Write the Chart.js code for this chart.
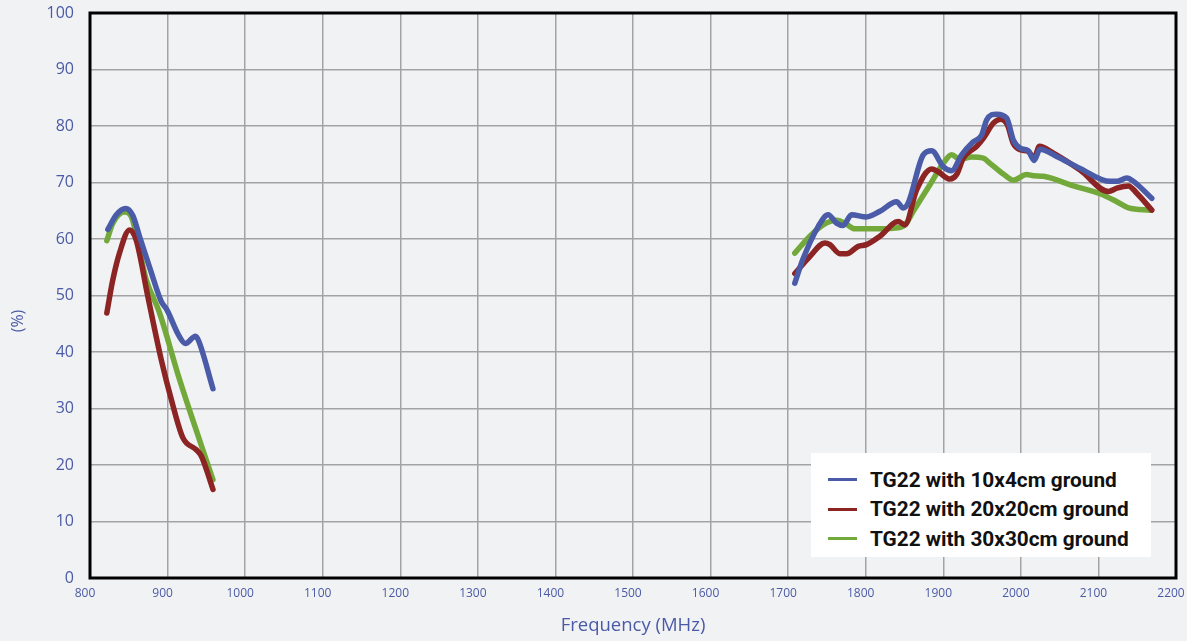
<!DOCTYPE html>
<html>
<head>
<meta charset="utf-8">
<script src="https://cdn.jsdelivr.net/npm/chart.js@4/dist/chart.umd.min.js"></script>
<style>
  html, body { margin: 0; padding: 0; background: #f1f2f4; }
  .wrap { position: relative; width: 1187px; height: 641px; }
  #chart { display: block; }
  .legend {
    position: absolute; left: 811px; top: 453px; width: 340px; height: 104px;
    background: #fff; box-sizing: border-box; padding: 12px 0 0 17px;
    font-family: Roboto, "DejaVu Sans", sans-serif; font-weight: 700; font-size: 20.8px; color: #111;
  }
  .legend div { height: 29.5px; display: flex; align-items: center; }
  .legend span.sw { display: inline-block; width: 29px; height: 3px; margin-right: 13px; }
</style>
</head>
<body>
<div class="wrap">
  <canvas id="chart" width="1187" height="641"></canvas>
  <div class="legend" id="legend"></div>
</div>
<script>
  const xTicks = [800, 900, 1000, 1100, 1200, 1300, 1400, 1500, 1600, 1700, 1800, 1900, 2000, 2100, 2200];
  const yTicks = [0, 10, 20, 30, 40, 50, 60, 70, 80, 90, 100];

  const seriesNames = ['TG22 with 10x4cm ground', 'TG22 with 20x20cm ground', 'TG22 with 30x30cm ground'];
  const seriesColors = ['#4a5ba8', '#8c2424', '#72a93a'];

  // [MHz, %], low band
  const blueLow = [[823, 61.7], [834, 64.3], [846, 65.4], [855, 64.2], [864, 60.4], [878, 54.5], [892, 48.9],
    [899, 47.5], [915, 42.8], [923, 41.5], [936, 42.8], [940, 42.0], [958.5, 33.5]];
  const redLow = [[821.7, 46.9], [829, 52.5], [838, 57.5], [851, 61.6], [859.6, 59.8], [874.6, 49.8], [891.9, 38.6],
    [905, 31.5], [919.8, 24.8], [937, 22.7], [943.5, 21.6], [958.5, 15.7]];
  const greenLow = [[821.7, 59.7], [829.4, 62.8], [844.5, 64.8], [853, 64.0], [872.5, 52.8], [889.7, 46.9],
    [915.5, 35.1], [958.5, 17.4]];

  // high band
  const blueHigh = [[1708.6, 52.2], [1719, 56.4], [1738.7, 62.2], [1751.6, 64.3], [1762.4, 62.8], [1771, 62.4],
    [1781.7, 64.3], [1801, 63.9], [1818.3, 64.9], [1839.8, 66.6], [1848.4, 65.5], [1854.8, 66.4], [1874.2, 74.9],
    [1885, 75.6], [1900, 72.8], [1910.8, 72.1], [1923.7, 74.9], [1938.7, 77.2], [1949.5, 78.4], [1956, 81.1],
    [1968.8, 82.1], [1981.7, 81.4], [1990.3, 77.5], [1999, 76.1], [2009.7, 75.6], [2017, 73.9], [2024.7, 75.9],
    [2046.2, 74.6], [2076.3, 72.5], [2115, 70.2], [2123.7, 70.2], [2136.6, 70.8], [2145.2, 70.2], [2168.8, 67.2]];
  const redHigh = [[1708.6, 53.9], [1728, 56.9], [1747.3, 59.3], [1753.8, 59.0], [1766.7, 57.4], [1775.3, 57.4],
    [1790.3, 58.7], [1801, 59.0], [1818.3, 60.5], [1841.9, 63.1], [1850.5, 62.5], [1865.6, 68.7], [1885, 72.4],
    [1893.5, 71.9], [1908.6, 70.6], [1917.2, 71.4], [1925.8, 74.3], [1943, 76.4], [1951.6, 77.8], [1964.5, 80.5],
    [1974, 81.2], [1982.6, 80.2], [1990.3, 76.9], [1999, 75.8], [2009.7, 75.5], [2017, 74.3], [2023.9, 76.4],
    [2041.9, 75.2], [2076.3, 72.2], [2112.9, 68.4], [2123.7, 69.0], [2138.7, 69.4], [2149.5, 68.1], [2168.8, 65.1]];
  const greenHigh = [[1708.6, 57.5], [1728, 60.5], [1745.2, 62.5], [1762.4, 63.3], [1773.1, 62.8], [1786, 61.8],
    [1814, 61.8], [1835.5, 61.9], [1850.5, 62.5], [1861.3, 64.9], [1882.8, 69.6], [1900, 73.4], [1910.8, 74.9],
    [1921.5, 74.1], [1936.6, 74.5], [1951.6, 74.3], [1960.2, 73.4], [1977.4, 71.5], [1990.3, 70.4], [2007.5, 71.4],
    [2016.1, 71.2], [2029, 71.1], [2067.7, 69.4], [2102.2, 68.0], [2123.7, 66.6], [2138.7, 65.5], [2166.7, 65.1]];

  const bands = [[blueLow, blueHigh], [redLow, redHigh], [greenLow, greenHigh]];

  const tickColor = '#4a5aa6';
  const font = '"Open Sans", "Noto Sans", sans-serif';

  // low band + high band for every series, the legend is drawn separately
  const datasets = [];
  bands.forEach((pair, i) => {
    pair.forEach(pts => {
      datasets.push({
        label: seriesNames[i],
        data: pts.map(p => ({ x: p[0], y: p[1] })),
        borderColor: seriesColors[i],
        borderWidth: 5.5,
        pointRadius: 0,
        fill: false,
        cubicInterpolationMode: 'monotone',
        borderCapStyle: 'round',
        borderJoinStyle: 'round',
      });
    });
  });

  const frameAndTitle = {
    id: 'frameAndTitle',
    afterDatasetsDraw(chart) {
      const { ctx, chartArea: a } = chart;
      ctx.save();
      ctx.strokeStyle = '#000';
      ctx.lineWidth = 3;
      ctx.strokeRect(a.left, a.top, a.right - a.left, a.bottom - a.top);
      ctx.restore();
    },
    afterDraw(chart) {
      const { ctx } = chart;
      ctx.save();
      ctx.translate(18, 321);
      ctx.rotate(-Math.PI / 2);
      ctx.fillStyle = tickColor;
      ctx.font = '16px ' + font;
      ctx.textAlign = 'center';
      ctx.textBaseline = 'middle';
      ctx.fillText('(%)', 0, 0);
      ctx.restore();
    }
  };

  const noPad = s => { s.paddingLeft = 0; s.paddingRight = 0; s.paddingTop = 0; s.paddingBottom = 0; };

  new Chart(document.getElementById('chart'), {
    type: 'line',
    data: { datasets },
    options: {
      responsive: false,
      animation: false,
      layout: { autoPadding: false, padding: { left: 0, top: 13, right: 11, bottom: 0 } },
      plugins: { legend: { display: false }, tooltip: { enabled: false } },
      scales: {
        x: {
          type: 'linear',
          min: 800, max: 2200,
          afterBuildTicks: s => { s.ticks = xTicks.map(v => ({ value: v })); },
          afterFit: s => { s.height = 63; noPad(s); },
          grid: { color: '#a3a3a3', lineWidth: 1.5, drawTicks: false },
          border: { display: false },
          ticks: { color: tickColor, font: { family: font, size: 12 }, padding: 8, labelOffset: -5, maxRotation: 0,
            callback: v => String(v) },
          title: { display: true, text: 'Frequency (MHz)', color: tickColor, font: { family: font, size: 18.5 }, padding: { top: 4 } }
        },
        y: {
          min: 0, max: 100,
          afterBuildTicks: s => { s.ticks = yTicks.map(v => ({ value: v })); },
          afterFit: s => { s.width = 90; noPad(s); },
          grid: { color: '#a3a3a3', lineWidth: 1.5, drawTicks: false },
          border: { display: false },
          ticks: { color: tickColor, font: { family: font, size: 16 }, padding: 16 }
        }
      }
    },
    plugins: [frameAndTitle]
  });

  const legend = document.getElementById('legend');
  seriesNames.forEach((name, i) => {
    const row = document.createElement('div');
    row.innerHTML = '<span class="sw" style="background:' + seriesColors[i] + '"></span>' + name;
    legend.appendChild(row);
  });
</script>
</body>
</html>
